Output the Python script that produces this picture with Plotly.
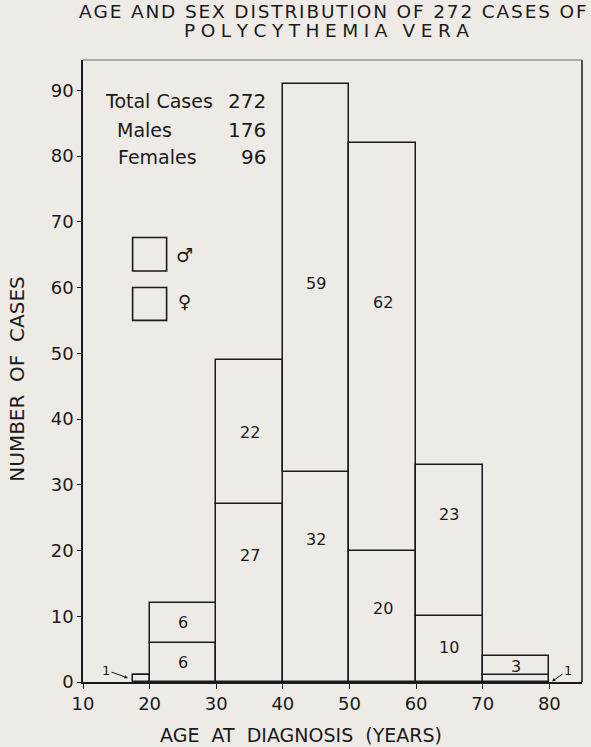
import plotly.graph_objects as go

# Age bins (years) and case counts by sex
bin_left = [17.5, 20, 30, 40, 50, 60, 70]
bin_right = [20, 30, 40, 50, 60, 70, 80]
females = [1, 6, 27, 32, 20, 10, 1]
males = [0, 6, 22, 59, 62, 23, 3]
male_over_80 = 1

total_cases = 272
total_males = 176
total_females = 96

x_ticks = [10, 20, 30, 40, 50, 60, 70, 80]
y_ticks = [0, 10, 20, 30, 40, 50, 60, 70, 80, 90]

X_RANGE = [10, 84.9]
Y_RANGE = [0, 94.6]

BG = "#eeebe7"
INK = "#1a1a1a"
FONT = "DejaVu Sans"


def tracked(s, gap="\u200a", word_gap=" "):
    """Widen lettering by putting narrow spaces between characters."""
    words = s.split(" ")
    return word_gap.join(gap.join(w) for w in words)


centers = [(a + b) / 2 for a, b in zip(bin_left, bin_right)]
widths = [b - a for a, b in zip(bin_left, bin_right)]

fig = go.Figure()
fig.add_trace(go.Bar(
    x=centers, y=females, width=widths, base=[0] * len(females),
    marker=dict(color=BG, line=dict(color=INK, width=1.5)),
    hoverinfo="skip", showlegend=False,
))
fig.add_trace(go.Bar(
    x=centers, y=males, width=widths, base=females,
    marker=dict(color=BG, line=dict(color=INK, width=1.5)),
    hoverinfo="skip", showlegend=False,
))

# segment count labels (vertical placement within each segment)
female_label_y = [None, 2.9, 19.3, 21.6, 11.2, 5.2, None]
male_label_y = [None, 9.0, 38.0, 60.6, 57.7, 25.5, 2.3]
annotations = []
for i, c in enumerate(centers):
    if female_label_y[i] is not None:
        annotations.append(dict(x=c, y=female_label_y[i], text=str(females[i]),
                                showarrow=False, font=dict(size=16, color=INK, family=FONT)))
    if male_label_y[i] is not None and males[i] > 0:
        annotations.append(dict(x=c, y=male_label_y[i], text=str(males[i]),
                                showarrow=False, font=dict(size=16, color=INK, family=FONT)))

# small counts outside the main bars, with pointers
annotations.append(dict(x=16.75, y=0.6, ax=-22, ay=-8, text=str(females[0]),
                        showarrow=True, arrowhead=2, arrowsize=0.7, arrowwidth=1,
                        arrowcolor=INK, font=dict(size=13, color=INK, family=FONT)))
annotations.append(dict(x=80.4, y=0.1, ax=16, ay=-11, text=str(male_over_80),
                        showarrow=True, arrowhead=2, arrowsize=0.7, arrowwidth=1,
                        arrowcolor=INK, font=dict(size=13, color=INK, family=FONT)))

# summary block
summary = [("Total Cases", total_cases, 13.0, 88.4),
           ("Males", total_males, 14.8, 84.0),
           ("Females", total_females, 14.9, 79.9)]
for label, val, lx, ly in summary:
    annotations.append(dict(x=lx, y=ly, text=label, xanchor="left", showarrow=False,
                            font=dict(size=19, color=INK, family=FONT)))
    annotations.append(dict(x=37.7, y=ly, text=str(val), xanchor="right", showarrow=False,
                            font=dict(size=20, color=INK, family=FONT)))

# key: open boxes with sex symbols
annotations.append(dict(x=25.2, y=65.0, text="♂", showarrow=False,
                        font=dict(size=19, color=INK, family=FONT)))
annotations.append(dict(x=25.2, y=57.9, text="♀", showarrow=False,
                        font=dict(size=18, color=INK, family=FONT)))

# titles
annotations.append(dict(xref="paper", yref="paper", x=0.5, y=1.0, yshift=49,
                        xanchor="center", yanchor="middle",
                        text=tracked("AGE AND SEX DISTRIBUTION OF 272 CASES OF",
                                     word_gap=" \u2009"),
                        showarrow=False, font=dict(size=18.5, color=INK, family=FONT)))
annotations.append(dict(xref="paper", yref="paper", x=0.487, y=1.0, yshift=30,
                        xanchor="center", yanchor="middle",
                        text=tracked("POLYCYTHEMIA VERA", gap="\u2009\u200a", word_gap="\u2002 "),
                        showarrow=False, font=dict(size=18.5, color=INK, family=FONT)))
annotations.append(dict(xref="paper", yref="paper", x=0.437, y=0, yshift=-53,
                        xanchor="center", yanchor="middle",
                        text="AGE  AT  DIAGNOSIS  (YEARS)", showarrow=False,
                        font=dict(size=19, color=INK, family=FONT)))
annotations.append(dict(xref="paper", yref="paper", x=0, xshift=-66, y=0.486,
                        xanchor="center", yanchor="middle",
                        text="NUMBER  OF  CASES", textangle=-90, showarrow=False,
                        font=dict(size=20, color=INK, family=FONT)))

shapes = [
    dict(type="rect", x0=17.45, x1=22.55, y0=62.5, y1=67.6, line=dict(color=INK, width=1.6)),
    dict(type="rect", x0=17.45, x1=22.55, y0=55.0, y1=60.0, line=dict(color=INK, width=1.6)),
    # right and top edges of the frame (top edge printed lighter)
    dict(type="line", xref="paper", yref="paper", x0=1, x1=1, y0=0, y1=1,
         line=dict(color=INK, width=1.5)),
    dict(type="line", xref="paper", yref="paper", x0=0, x1=1, y0=1, y1=1,
         line=dict(color="#6a6a6a", width=1.2)),
]

fig.update_layout(
    width=591, height=747,
    margin=dict(l=83, r=9, t=60, b=65),
    paper_bgcolor=BG, plot_bgcolor=BG,
    barmode="overlay", bargap=0,
    annotations=annotations, shapes=shapes,
    font=dict(family=FONT, color=INK),
)
fig.update_xaxes(range=X_RANGE, tickvals=x_ticks, ticks="outside", ticklen=5,
                 tickcolor=INK, tickfont=dict(size=18, color=INK, family=FONT),
                 showgrid=False, zeroline=False, showline=True, linecolor=INK,
                 linewidth=1.5)
fig.update_yaxes(range=Y_RANGE, tickvals=y_ticks, ticks="outside", ticklen=4,
                 tickcolor=INK, tickfont=dict(size=18, color=INK, family=FONT),
                 showgrid=False, zeroline=False, showline=True, linecolor=INK,
                 linewidth=1.5)

fig.write_html("out.html")
